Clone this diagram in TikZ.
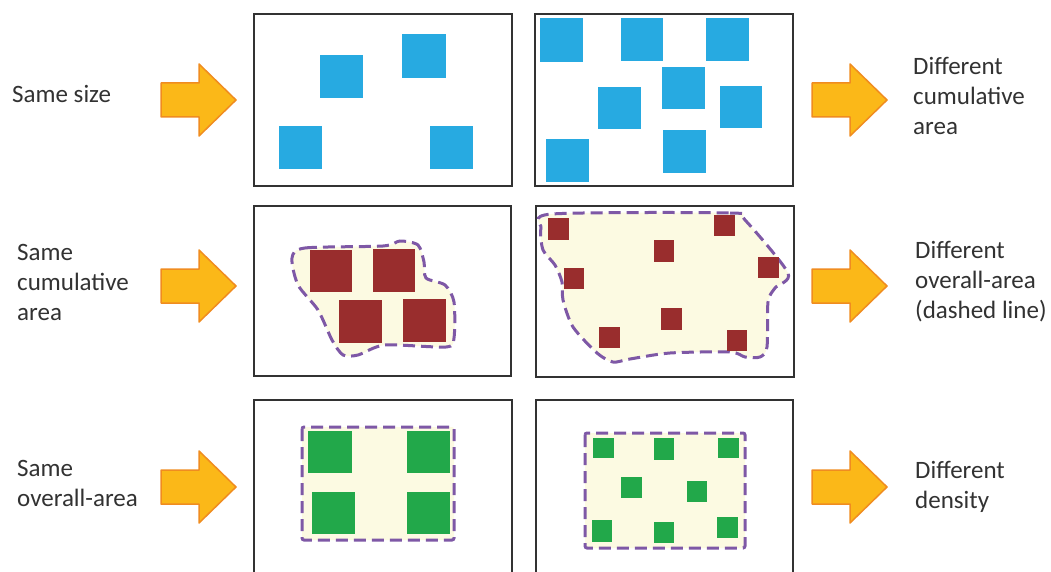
\documentclass[tikz,border=0pt]{standalone}
\usepackage{fontspec}
\setmainfont{Carlito}
\definecolor{txt}{RGB}{50,50,50}
\definecolor{frame}{RGB}{50,50,50}
\definecolor{sqblue}{RGB}{39,170,225}
\definecolor{sqred}{RGB}{153,45,45}
\definecolor{sqgreen}{RGB}{34,168,74}
\definecolor{cream}{RGB}{252,250,226}
\definecolor{dashpurple}{RGB}{126,88,166}
\definecolor{arrfill}{RGB}{251,184,24}
\definecolor{arrdraw}{RGB}{240,140,32}
\tikzset{
  panel/.style={draw=frame, line width=2pt, fill=white},
  bluesq/.style={fill=sqblue},
  redsq/.style={fill=sqred},
  greensq/.style={fill=sqgreen},
  outline/.style={draw=dashpurple, fill=cream, line width=3pt, dash pattern=on 12pt off 6pt},
  arrowsty/.style={fill=arrfill, draw=arrdraw, line width=1.5pt, line join=round},
  fatarrow/.pic={\draw[arrowsty] (-38,-17) -- (0,-17) -- (0,-36) -- (37,0) -- (0,36) -- (0,17) -- (-38,17) -- cycle;},
  lbl/.style={anchor=base west, align=left, inner sep=0pt, text=txt, font=\fontsize{25}{30}\selectfont}
}
\begin{document}
\begin{tikzpicture}[x=1pt,y=-1pt]
\clip (0,0) rectangle (1051,572);
\fill[white] (0,0) rectangle (1051,572);

% ---------- panels ----------
\draw[panel] (254,14) rectangle (512,186);
\draw[panel] (535,14) rectangle (793,186);
\draw[panel] (254,206) rectangle (511,376);
\draw[panel] (536,206) rectangle (794,377);
\draw[panel] (254,400) rectangle (512,590);
\draw[panel] (536,400) rectangle (793,590);

% ---------- row 1: blue squares ----------
\fill[bluesq] (320,55) rectangle (363,98);
\fill[bluesq] (402,34) rectangle (446,78);
\fill[bluesq] (279,126) rectangle (322,169);
\fill[bluesq] (430,126) rectangle (473,169);

\fill[bluesq] (540,18) rectangle (583,62);
\fill[bluesq] (621,18) rectangle (663,61);
\fill[bluesq] (706,18) rectangle (749,61);
\fill[bluesq] (662,67) rectangle (705,109);
\fill[bluesq] (598,87) rectangle (641,129);
\fill[bluesq] (720,86) rectangle (762,128);
\fill[bluesq] (546,139) rectangle (589,182);
\fill[bluesq] (663,130) rectangle (706,173);

% ---------- row 2: red squares with dashed outlines ----------
\draw[outline] plot[smooth cycle, tension=0.45] coordinates {
  (292,258) (305,248) (383,246) (400,241) (418,245) (424,262) (426,278)
  (445,285) (454,302) (454,338) (446,347) (385,345) (358,355) (343,355)
  (332,340) (318,310) (298,285)};
\fill[redsq] (310,250) rectangle (352,292);
\fill[redsq] (373,249) rectangle (415,292);
\fill[redsq] (339,300) rectangle (382,343);
\fill[redsq] (403,299) rectangle (446,342);

\draw[outline] plot[smooth cycle, tension=0.45] coordinates {
  (552,214) (730,213) (745,220) (788,273) (775,288) (768,302) (767,347)
  (760,357) (745,357) (730,352) (670,353) (630,359) (613,362) (597,353)
  (573,327) (563,300) (562,282) (555,265) (543,250) (541,228)};
\fill[redsq] (548,218) rectangle (569,240);
\fill[redsq] (714,215) rectangle (735,236);
\fill[redsq] (654,240) rectangle (674,262);
\fill[redsq] (758,257) rectangle (779,278);
\fill[redsq] (564,268) rectangle (584,289);
\fill[redsq] (661,308) rectangle (682,330);
\fill[redsq] (599,327) rectangle (620,348);
\fill[redsq] (727,330) rectangle (747,351);

% ---------- row 3: green squares with dashed rectangles ----------
\draw[outline, rounded corners=2pt] (302,427) rectangle (454,540);
\fill[greensq] (308,431) rectangle (352,473);
\fill[greensq] (407,431) rectangle (450,473);
\fill[greensq] (312,492) rectangle (355,534);
\fill[greensq] (407,492) rectangle (450,534);

\draw[outline, rounded corners=2pt] (585,433) rectangle (745,548);
\fill[greensq] (593,438) rectangle (614,458);
\fill[greensq] (654,438) rectangle (674,460);
\fill[greensq] (718,438) rectangle (739,458);
\fill[greensq] (621,477) rectangle (642,498);
\fill[greensq] (687,481) rectangle (707,502);
\fill[greensq] (592,520) rectangle (612,542);
\fill[greensq] (654,522) rectangle (674,543);
\fill[greensq] (717,517) rectangle (738,538);

% ---------- arrows ----------
\pic at (199,100) {fatarrow};
\pic at (199,286) {fatarrow};
\pic at (199,487) {fatarrow};
\pic at (850,100) {fatarrow};
\pic at (850,286) {fatarrow};
\pic at (850,487) {fatarrow};

% ---------- labels (anchor = baseline of the last line) ----------
\node[lbl] (l1) at (12,103) {Same size};
\node[lbl] (l2) at (17,320) {Same\\cumulative\\area};
\node[lbl] (l3) at (17,506) {Same\\overall-area};
\node[lbl] (r1) at (913,135) {Different\\cumulative\\area};
\node[lbl] (r2) at (915,318) {Different\\overall-area\\(dashed line)};
\node[lbl] (r3) at (915,508) {Different\\density};
\end{tikzpicture}
\end{document}
